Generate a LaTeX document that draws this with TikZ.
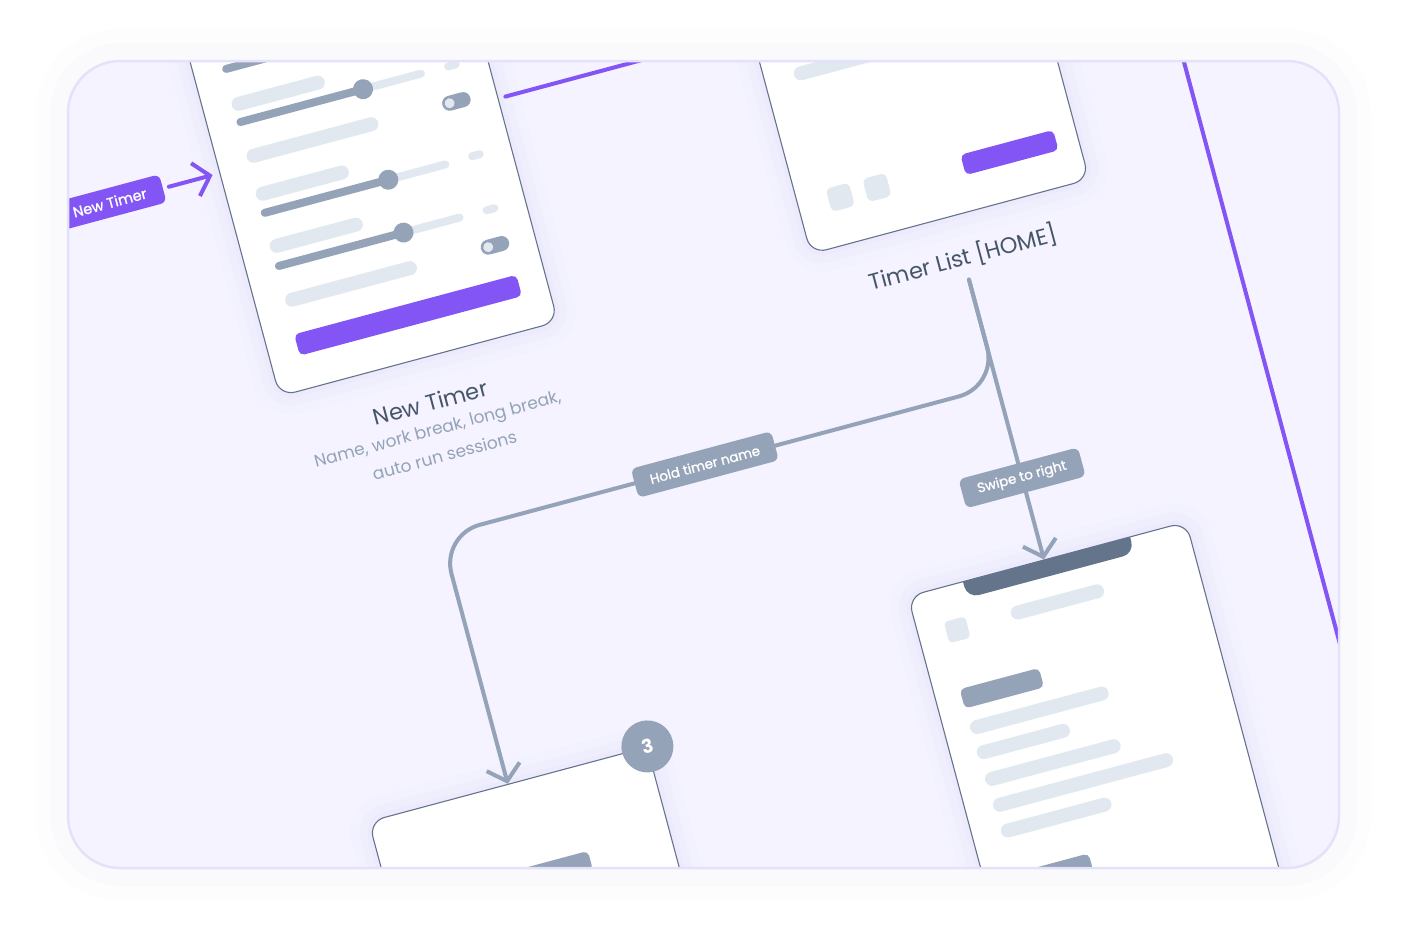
\documentclass[tikz,border=0pt]{standalone}
\usepackage{fontspec}
\setmainfont{Poppins}
\newfontfamily\pillfont[FakeBold=1.2]{Poppins}
\usetikzlibrary{arrows.meta}
\definecolor{brandviolet}{RGB}{131,85,245}
\definecolor{slatemid}{RGB}{148,163,184}
\definecolor{slatelite}{RGB}{226,232,240}
\definecolor{slatedark}{RGB}{100,116,139}
\definecolor{slateink}{RGB}{71,85,105}
\definecolor{cardbg}{RGB}{244,243,255}
\definecolor{cardedge}{RGB}{228,226,251}
\definecolor{glow}{RGB}{190,184,245}
\def\uibar[#1](#2:#3:#4){\draw[line cap=round,#1] (#2,#4) -- (#3,#4);}

\begin{document}
\begin{tikzpicture}[x=1pt, y=-1pt,
    phone/.style={draw=slatedark, line width=1.1pt, fill=white, rounded corners=16pt,
      minimum width=288pt, minimum height=620pt, transform shape,
      preaction={draw=glow, line width=44pt, opacity=0.03},
      preaction={draw=glow, line width=26pt, opacity=0.045},
      preaction={draw=glow, line width=10pt, opacity=0.06}},
    title/.style={text=slateink, font=\fontsize{22.5}{26}\selectfont, inner ysep=10pt, transform shape},
    note/.style={text=slatemid, font=\fontsize{17}{28}\selectfont, align=center, transform shape},
    pill/.style={fill=slatemid, text=white, rounded corners=6pt, minimum height=30pt, inner xsep=16pt,
      font=\pillfont\fontsize{13.5}{15}\selectfont, transform shape},
    tag/.style={fill=brandviolet, text=white, rounded corners=6pt, minimum height=29pt, minimum width=110pt,
      font=\pillfont\fontsize{14.5}{16}\selectfont, transform shape},
    badge/.style={circle, fill=slatemid, text=white, minimum size=52pt, inner sep=0pt,
      font=\bfseries\fontsize{19}{22}\selectfont, transform shape},
    flow/.style={draw=slatemid, line width=4pt, line cap=round, rounded corners=40pt},
    link/.style={draw=brandviolet, line width=4pt, line cap=round, rounded corners=40pt},
    headed/.style={-{Straight Barb[length=15pt, width=34pt]}},
    lite/.style={draw=slatelite, line width=14pt},
    track/.style={line width=8pt}]

    %%%%% START %%%%%

    \fill[white] (0,0) rectangle (1408,946);
    \useasboundingbox (0,0) rectangle (1408,946);

    \draw[glow, line width=64pt, opacity=0.025, rounded corners=52pt] (68,61) rectangle (1339,868);
    \draw[glow, line width=36pt, opacity=0.035, rounded corners=52pt] (68,61) rectangle (1339,868);
    \fill[cardbg, rounded corners=52pt] (68,61) rectangle (1339,868);

    \begin{scope}
    \clip[rounded corners=52pt] (68,61) rectangle (1339,868);
    \begin{scope}[rotate around={15:(704,473)}]

    % screens
    \node[phone] (newtimer) at (458,-21) {};
    \node[phone] (list) at (1008,-21) {};
    \node[phone] (detail) at (1013,955) {};
    \node[phone] (edit) at (434,1033) {};

    % new timer form
    \uibar[lite](350:432:-59);
    \uibar[track, draw=slatemid](347:474:-41);
    \uibar[track, draw=slatelite](474:534:-41);
    \fill[slatemid] (474,-41) circle (10pt);

    \uibar[lite](350:432:-4);
    \uibar[track, draw=slatemid](347:474:14);
    \uibar[track, draw=slatelite](474:534:14);
    \fill[slatemid] (474,14) circle (10pt);
    \uibar[track, draw=slatelite](562:570:14);

    \uibar[lite](351:473:50);
    \uibar[line width=15pt, draw=slatemid](554:568:50);
    \fill[slatelite] (554,50) circle (5pt);

    \uibar[lite](350:432:89);
    \uibar[track, draw=slatemid](347:475:108);
    \uibar[track, draw=slatelite](475:534:108);
    \fill[slatemid] (475,108) circle (10pt);
    \uibar[track, draw=slatelite](562:570:107);

    \uibar[lite](350:432:143);
    \uibar[track, draw=slatemid](347:476:163);
    \uibar[track, draw=slatelite](476:534:163);
    \fill[slatemid] (476,163) circle (10pt);
    \uibar[track, draw=slatelite](562:570:163);

    \uibar[lite](351:473:199);
    \uibar[line width=15pt, draw=slatemid](554:568:199);
    \fill[slatelite] (554,199) circle (5pt);

    \fill[brandviolet, rounded corners=5pt] (344,233) rectangle (574,255);

    % timer list
    \uibar[lite](901:990:112);
    \fill[slatelite, rounded corners=5pt] (895,230) rectangle (919,254);
    \fill[slatelite, rounded corners=5pt] (933,230) rectangle (957,254);
    \fill[brandviolet, rounded corners=5pt] (1034,232) rectangle (1130,253);

    % detail screen
    \fill[slatedark] (926,645) -- (926,650) arc[start angle=180, end angle=270, radius=12pt]
      -- (1087,662) arc[start angle=270, end angle=360, radius=12pt] -- (1099,645) -- cycle;
    \fill[slatelite, rounded corners=4pt] (897,679) rectangle (919,701);
    \uibar[lite](971:1053:689);
    \fill[slatemid, rounded corners=5pt] (895,748) rectangle (977,768);
    \uibar[lite](902:1031:789);
    \uibar[lite](902:984:815);
    \uibar[lite](903:1029:843);
    \uibar[lite](904:1076:870);
    \uibar[lite](905:1005:897);
    \fill[slatemid, rounded corners=5pt] (895,940) rectangle (977,960);

    % edit screen
    \fill[slatemid, rounded corners=5pt] (378,808) rectangle (494,828);

    % labels
    \node[title] (newlabel) at (458,334) {New Timer};
    \node[note] (newnote) at (458,375) {Name, work break, long break,\\auto run sessions};
    \node[title] (listlabel) at (1010,332) {Timer List [HOME]};
    \node[tag] (newtag) at (200,58) {New Timer};
    \node[pill] (swipe) at (1010,560) {Swipe to right};
    \node[pill] (hold) at (707,465) {Hold timer name};
    \coordinate (rbot) at (1274,1100);

    % connectors
    \draw[link, headed, shorten <=6pt, shorten >=7pt] (newtag.east) -- (newtag.east -| newtimer.west);
    \draw[link, shorten <=7pt] (newtag.east -| newtimer.east) -- (newtag.east -| list.west);
    \draw[link] (list.east) -| (rbot);

    \draw[flow] (listlabel.south) -- (swipe.north);
    \draw[flow, headed] (swipe.south) -- (swipe.south |- detail.north);
    \draw[flow] (listlabel.south) |- (hold.east);
    \draw[flow, headed] (hold.west) -| (edit.north);

    \node[badge] (stepthree) at (edit.north east) {3};

    \end{scope}
    \end{scope}

    \draw[cardedge, line width=2.5pt, rounded corners=52pt] (68,61) rectangle (1339,868);

    %%%%% END %%%%%
\end{tikzpicture}
\end{document}
